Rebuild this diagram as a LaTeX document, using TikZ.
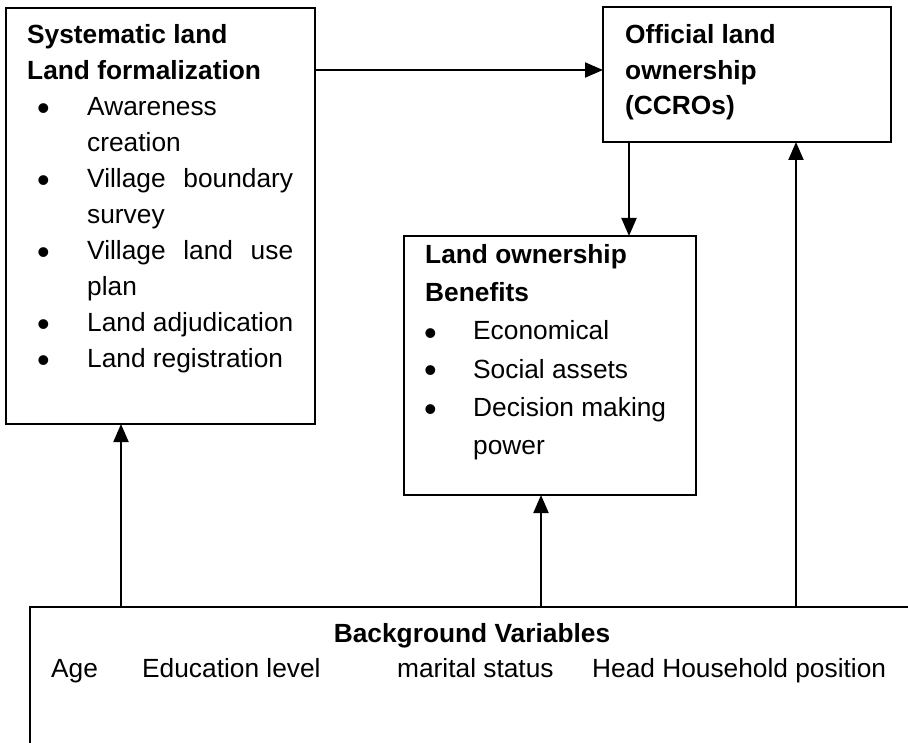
\documentclass[tikz,border=0pt]{standalone}
\usepackage{fontspec}
\setmainfont{Liberation Sans}
\usetikzlibrary{arrows.meta}
\begin{document}
\begin{tikzpicture}[x=1pt,y=-1pt,
  box/.style={draw=black, line width=1.3pt, inner sep=0pt, outer sep=0pt, anchor=north west},
  txt/.style={inner sep=0pt, anchor=base west, font=\fontsize{26.3}{36}\selectfont},
  hd/.style={inner sep=0pt, anchor=base west, font=\fontsize{26.3}{36}\selectfont\bfseries},
  bul/.style={inner sep=0pt, anchor=base west, font=\fontsize{36}{36}\selectfont},
  arr/.style={line width=2pt, -{Triangle[length=18pt,width=15pt]}}]
\useasboundingbox (0,0) rectangle (908,743);
\clip (0,0) rectangle (908,743);
% boxes
\node[box, minimum width=309pt, minimum height=416pt] (sys) at (6,8) {};
\node[box, minimum width=288pt, minimum height=135pt] (off) at (603,7) {};
\node[box, minimum width=292pt, minimum height=259pt] (ben) at (404,236) {};
\node[box, minimum width=900pt, minimum height=200pt] (bg) at (30,607) {};
% box 1 text
\node[hd] (s1) at (27,44) {Systematic land};
\node[hd] (s2) at (27,80) {Land formalization};
\foreach \y/\n in {116/b1,188/b2,260/b3,332/b4,368/b5}{
  \node[bul] (\n) at (37,\y+5) {\textbullet};
}
\node[txt] (l1) at (87,116) {Awareness};
\node[txt] (l2) at (87,152) {creation};
\node[txt] (l3) at (87,188) {\makebox[206pt][s]{Village boundary}};
\node[txt] (l4) at (87,224) {survey};
\node[txt] (l5) at (87,260) {\makebox[206pt][s]{Village land use}};
\node[txt] (l6) at (87,296) {plan};
\node[txt] (l7) at (87,332) {Land adjudication};
\node[txt] (l8) at (87,368) {Land registration};
% box 2 text
\node[hd] (o1) at (625,44) {Official land};
\node[hd] (o2) at (625,80) {ownership};
\node[hd] (o3) at (625,115) {(CCROs)};
% box 3 text
\node[hd] (n1) at (425,264) {Land ownership};
\node[hd] (n2) at (425,302) {Benefits};
\foreach \y/\n in {340/c1,378/c2,416/c3}{
  \node[bul] (\n) at (424,\y+5) {\textbullet};
}
\node[txt] (m1) at (473,340) {Economical};
\node[txt] (m2) at (473,378) {Social assets};
\node[txt] (m3) at (473,416) {Decision making};
\node[txt] (m4) at (473,454) {power};
% box 4 text
\node[hd, anchor=base] (g0) at (472,642) {Background Variables};
\node[txt] (g1) at (51,677) {Age};
\node[txt] (g2) at (142,677) {Education level};
\node[txt] (g3) at (397,677) {marital status};
\node[txt] (g4) at (592,677) {Head Household position};
% connectors
\coordinate (h1) at (0,70);
\coordinate (v1) at (629,0);
\coordinate (v2) at (121,0);
\coordinate (v3) at (541,0);
\coordinate (v4) at (796,0);
\draw[arr] (sys.east |- h1) -- (off.west |- h1);
\draw[arr] (off.south -| v1) -- (ben.north -| v1);
\draw[arr] (bg.north -| v2) -- (sys.south -| v2);
\draw[arr] (bg.north -| v3) -- (ben.south -| v3);
\draw[arr] (bg.north -| v4) -- (off.south -| v4);
\end{tikzpicture}
\end{document}
